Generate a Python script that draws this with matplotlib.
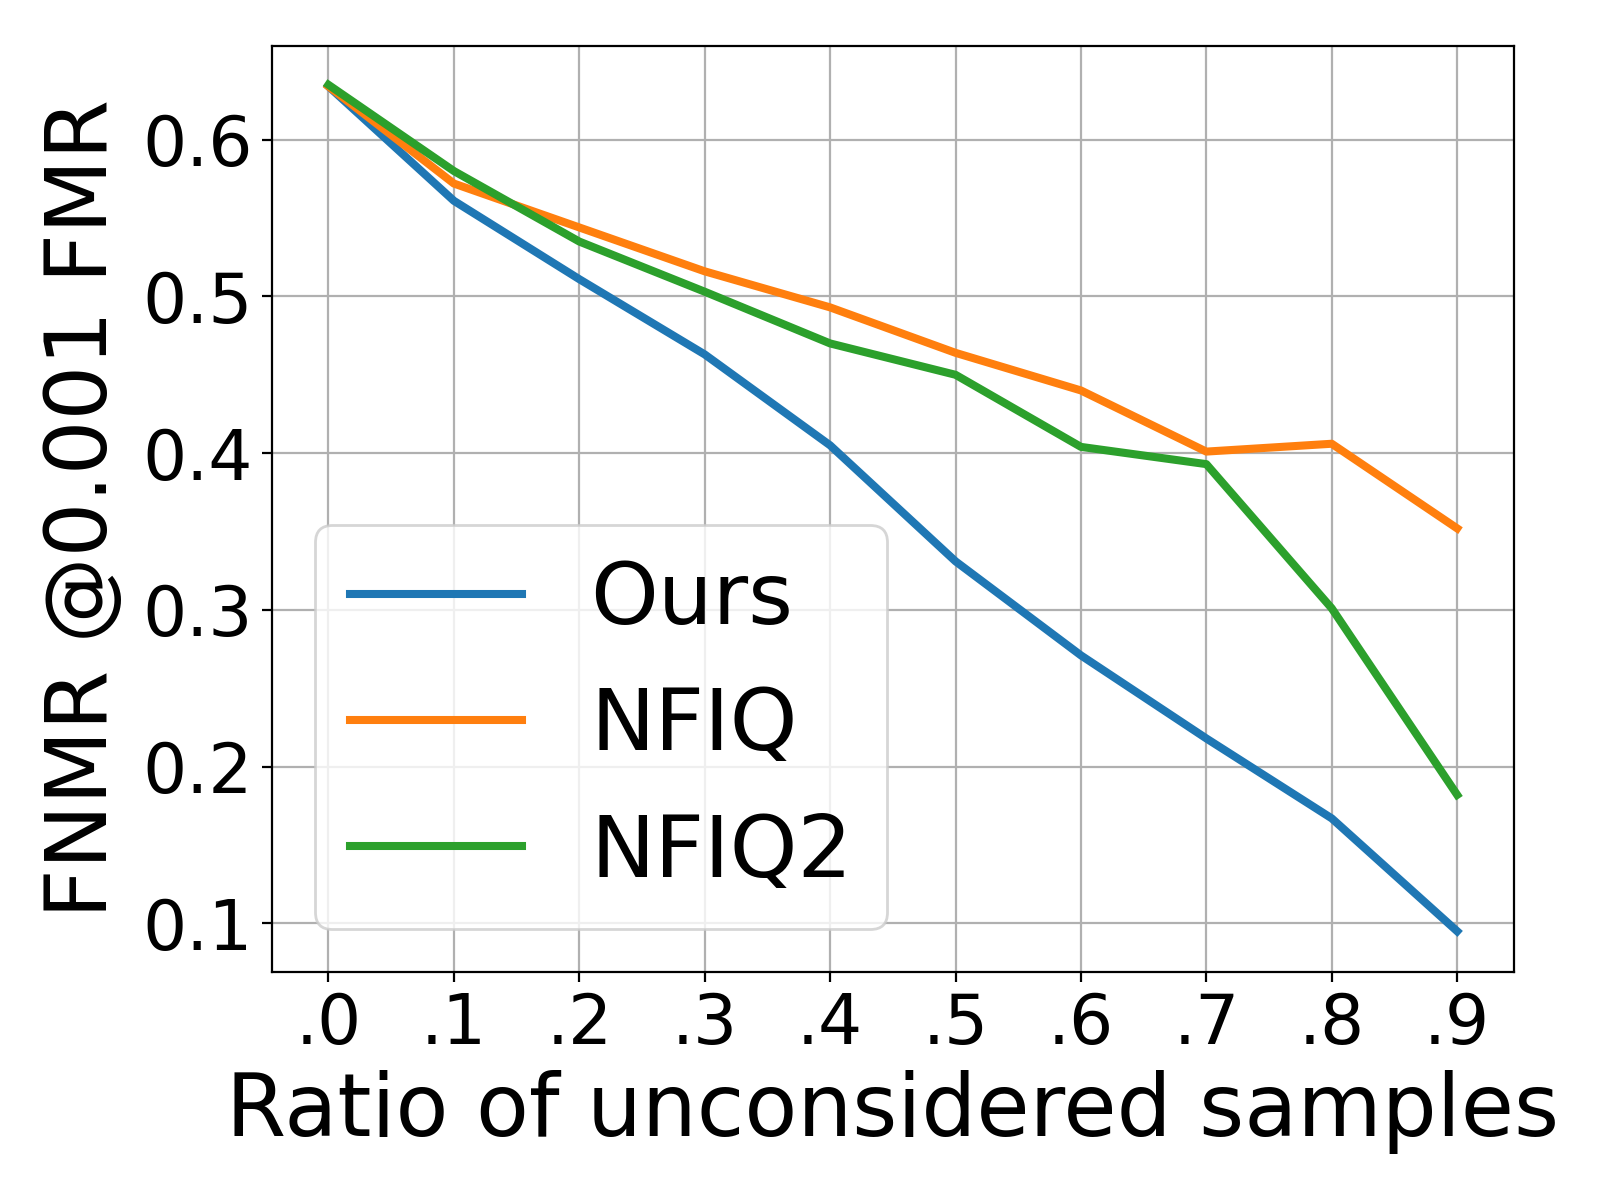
import numpy as np
import matplotlib
matplotlib.use("Agg")
import matplotlib.pyplot as plt

# ratio of samples left out, and FNMR at 0.001 FMR for each method
ratios = [0.0, 0.1, 0.2, 0.3, 0.4, 0.5, 0.6, 0.7, 0.8, 0.9]
tick_labels = [".0", ".1", ".2", ".3", ".4", ".5", ".6", ".7", ".8", ".9"]
ours = [0.634, 0.561, 0.511, 0.463, 0.405, 0.331, 0.271, 0.218, 0.167, 0.095]
nfiq = [0.634, 0.572, 0.544, 0.516, 0.493, 0.464, 0.440, 0.401, 0.406, 0.352]
nfiq2 = [0.635, 0.580, 0.535, 0.503, 0.470, 0.450, 0.404, 0.393, 0.301, 0.182]

fig = plt.figure(figsize=(8, 6), dpi=200)
ax = fig.add_axes([0.170, 0.190, 0.776, 0.772])

ax.plot(ratios, ours, label="Ours", linewidth=2.9)
ax.plot(ratios, nfiq, label="NFIQ", linewidth=2.9)
ax.plot(ratios, nfiq2, label="NFIQ2", linewidth=2.9)

ax.set_xticks(ratios)
ax.set_xticklabels(tick_labels)
ax.set_yticks([0.1, 0.2, 0.3, 0.4, 0.5, 0.6])
ax.set_ylim(0.069, 0.660)
ax.tick_params(labelsize=25)
ax.grid(True)

ax.set_xlabel("Ratio of unconsidered samples", fontsize=31.2)
ax.set_ylabel("FNMR @0.001 FMR", fontsize=31, labelpad=6)
ax.legend(loc="lower left", fontsize=31, handlelength=2.0)

fig.savefig("out.png", dpi=200)
